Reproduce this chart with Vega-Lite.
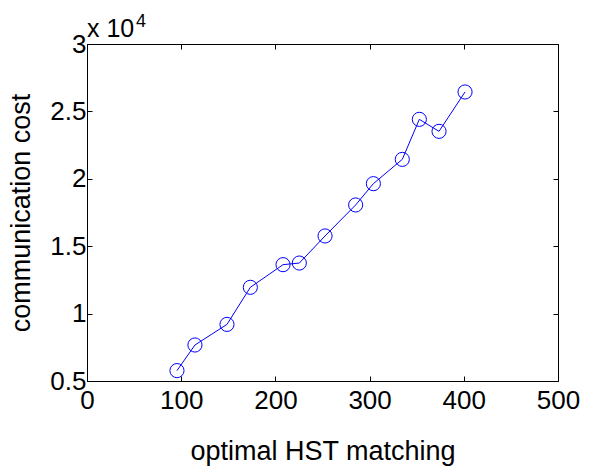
{
  "$schema": "https://vega.github.io/schema/vega-lite/v6.json",
  "width": 471,
  "height": 337,
  "autosize": {"type": "none"},
  "padding": {"left": 87, "top": 44, "right": 38, "bottom": 91},
  "background": "white",
  "config": {
    "view": {"stroke": "black", "strokeWidth": 1},
    "axis": {
      "grid": false,
      "domain": false,
      "labelFont": "Liberation Sans",
      "titleFont": "Liberation Sans",
      "labelColor": "black",
      "titleColor": "black",
      "tickColor": "black",
      "labelFontSize": 26,
      "titleFontSize": 27,
      "titleFontWeight": "normal",
      "labelFlush": false,
      "labelOverlap": false,
      "labelBound": false
    }
  },
  "data": {
    "values": [
      {"hst": 95.5, "cost": 5770},
      {"hst": 114.6, "cost": 7670},
      {"hst": 148.6, "cost": 9200},
      {"hst": 173.4, "cost": 11950},
      {"hst": 208.1, "cost": 13630},
      {"hst": 225.4, "cost": 13750},
      {"hst": 252.7, "cost": 15760},
      {"hst": 285.2, "cost": 18060},
      {"hst": 304.0, "cost": 19640},
      {"hst": 334.7, "cost": 21440},
      {"hst": 352.8, "cost": 24410},
      {"hst": 373.7, "cost": 23520},
      {"hst": 401.3, "cost": 26440}
    ]
  },
  "layer": [
    {
      "mark": {"type": "line", "color": "#0000ff", "strokeWidth": 1},
      "encoding": {
        "x": {
          "field": "hst", "type": "quantitative",
          "scale": {"domain": [0, 500], "nice": false, "zero": false},
          "axis": {"values": [0, 100, 200, 300, 400, 500], "tickSize": -5, "labelPadding": 11, "title": "optimal HST matching", "titlePadding": 25}
        },
        "y": {
          "field": "cost", "type": "quantitative",
          "scale": {"domain": [5000, 30000], "nice": false, "zero": false},
          "axis": {"values": [5000, 10000, 15000, 20000, 25000, 30000], "labelExpr": "datum.value / 10000 + ''", "tickSize": -5, "labelPadding": 6, "title": "communication cost", "titlePadding": 14}
        }
      }
    },
    {
      "mark": {"type": "point", "shape": "circle", "filled": false, "color": "#0000ff", "size": 200, "strokeWidth": 1, "opacity": 1},
      "encoding": {
        "x": {"field": "hst", "type": "quantitative", "axis": null},
        "y": {"field": "cost", "type": "quantitative", "axis": null}
      }
    },
    {
      "mark": {"type": "point", "opacity": 0},
      "encoding": {
        "x": {"field": "hst", "type": "quantitative", "axis": {"orient": "top", "values": [0, 100, 200, 300, 400, 500], "labels": false, "tickSize": -5, "title": null}},
        "y": {"field": "cost", "type": "quantitative", "axis": {"orient": "right", "values": [5000, 10000, 15000, 20000, 25000, 30000], "labels": false, "tickSize": -5, "title": null}}
      }
    },
    {
      "data": {"values": [{"label": "x 10"}]},
      "mark": {"type": "text", "align": "left", "baseline": "alphabetic", "font": "Liberation Sans", "fontSize": 25, "fontWeight": "normal", "color": "black", "dy": -7},
      "encoding": {
        "x": {"datum": 0, "type": "quantitative", "axis": null},
        "y": {"datum": 30000, "type": "quantitative", "axis": null},
        "text": {"field": "label"}
      }
    },
    {
      "data": {"values": [{"label": "4"}]},
      "mark": {"type": "text", "align": "left", "baseline": "alphabetic", "font": "Liberation Sans", "fontSize": 18, "fontWeight": "normal", "color": "black", "dy": -17, "dx": 49},
      "encoding": {
        "x": {"datum": 0, "type": "quantitative", "axis": null},
        "y": {"datum": 30000, "type": "quantitative", "axis": null},
        "text": {"field": "label"}
      }
    }
  ],
  "resolve": {"axis": {"x": "independent", "y": "independent"}}
}
